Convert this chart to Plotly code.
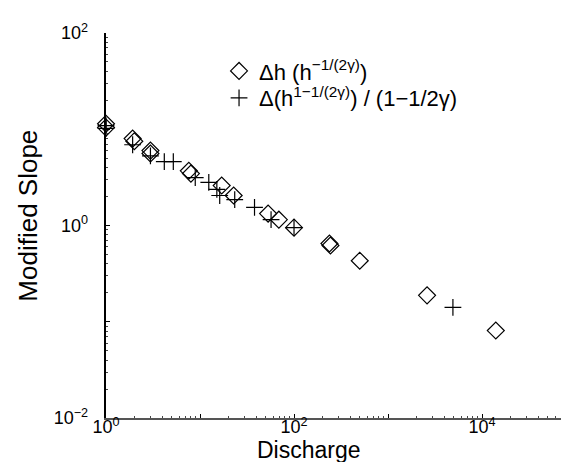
import plotly.graph_objects as go

# Series 1: Δh (h^-1/(2γ))  (diamonds)
diamond_x = [1, 1, 1.92, 2.0, 2.97, 2.97, 7.6, 8.0, 17.0, 22.8, 53, 69, 100, 238, 244, 500, 2600, 14000]
diamond_y = [11.4, 10.4, 8.0, 7.5, 6.0, 5.6, 3.7, 3.46, 2.6, 2.05, 1.33, 1.15, 0.95, 0.65, 0.62, 0.43, 0.188, 0.081]

# Series 2: Δ(h^(1-1/(2γ))) / (1-1/2γ)  (pluses)
plus_x = [1, 1, 1.92, 2.97, 4.17, 5.2, 8.9, 12.4, 15.1, 16.2, 23.4, 38, 57, 100, 4900]
plus_y = [10.9, 10.2, 6.9, 5.3, 4.6, 4.6, 3.15, 2.8, 2.37, 2.05, 1.86, 1.54, 1.15, 0.95, 0.141]

x_tickvals = [1, 10, 100, 1000, 10000]
x_ticktext = ["10<sup>0</sup>", "", "10<sup>2</sup>", "", "10<sup>4</sup>"]
y_tickvals = [0.01, 0.1, 1, 10, 100]
y_ticktext = ["10<sup>−2</sup>", "", "10<sup>0</sup>", "", "10<sup>2</sup>"]

FONT = "Liberation Sans, Arial, Helvetica, sans-serif"
PAD = "\u2002\u2009"

fig = go.Figure()
fig.add_trace(go.Scatter(
    x=diamond_x, y=diamond_y, mode="markers",
    name="Δh (h<sup>−1/(2γ)</sup>)", legend="legend",
    marker=dict(symbol="diamond-open", size=13, color="black", line=dict(width=1.2, color="black")),
    cliponaxis=False,
))
fig.add_trace(go.Scatter(
    x=plus_x, y=plus_y, mode="markers",
    name="Δ(h<sup>1−1/(2γ)</sup>) / (1−1/2γ)", legend="legend2",
    marker=dict(symbol="cross-thin-open", size=12, color="black", line=dict(width=1.2, color="black")),
    cliponaxis=False,
))

axis_common = dict(
    type="log", showgrid=False, zeroline=False, showline=True, linewidth=1.5,
    ticks="inside", ticklen=4, tickcolor="black",
    tickfont=dict(family=FONT, size=18, color="black"),
    minor=dict(ticks="inside", ticklen=2, tickcolor="#444", dtick="D1", showgrid=False),
)

legend_common = dict(xanchor="left", yanchor="middle", bgcolor="rgba(0,0,0,0)",
                     font=dict(family=FONT, size=22, color="black"), itemwidth=30)

fig.update_layout(
    width=569, height=462,
    margin=dict(l=98, r=0, t=25, b=52),
    paper_bgcolor="white", plot_bgcolor="white",
    font=dict(family=FONT, color="black"),
    xaxis=dict(axis_common, range=[0, 5.01], tickvals=x_tickvals, ticktext=x_ticktext,
               linecolor="#555", ticklabelstandoff=-8),
    yaxis=dict(axis_common, range=[-2, 2], tickvals=y_tickvals,
               ticktext=[t + PAD if t else t for t in y_ticktext],
               linecolor="black"),
    legend=dict(legend_common, x=0.24, y=0.901),
    legend2=dict(legend_common, x=0.24, y=0.831),
    showlegend=True,
    annotations=[
        dict(text="Discharge", xref="paper", yref="paper", x=0.43, y=-0.083,
             xanchor="center", yanchor="middle", showarrow=False,
             font=dict(family=FONT, size=23, color="black")),
        dict(text="Modified Slope", xref="paper", yref="paper", x=-0.166, y=0.525,
             xanchor="center", yanchor="middle", showarrow=False, textangle=-90,
             font=dict(family=FONT, size=26, color="black")),
    ],
)

fig.write_html("out.html")
